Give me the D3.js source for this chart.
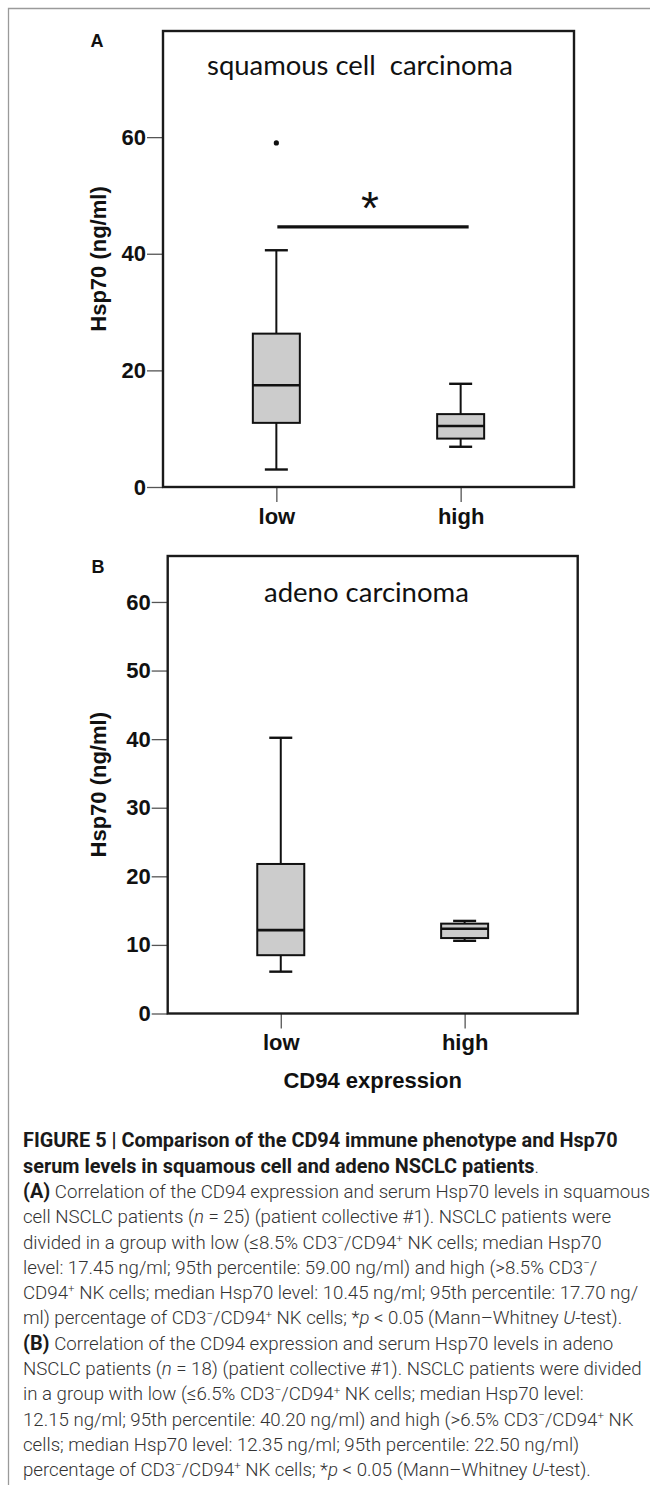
<!DOCTYPE html>
<html><head><meta charset="utf-8">
<script src="https://cdn.jsdelivr.net/npm/d3@7"></script>
<style>body{margin:0;background:#fff} svg{display:block}</style>
</head><body>
<script>
// ---------- data ----------
const categories = ["low", "high"];

// Panel A: squamous cell carcinoma (Hsp70 ng/ml)
const squamousWhiskerLow  = [3.0, 6.9];
const squamousQ1          = [11.0, 8.3];
const squamousMedian      = [17.45, 10.45];
const squamousQ3          = [26.3, 12.5];
const squamousWhiskerHigh = [40.6, 17.7];
const squamousOutliers    = [{cat: "low", value: 59.0}];
const squamousTicks       = [0, 20, 40, 60];
const squamousSignif      = {from: "low", to: "high", value: 44.6, label: "*"};

// Panel B: adeno carcinoma (Hsp70 ng/ml)
const adenoWhiskerLow  = [6.1, 10.6];
const adenoQ1          = [8.5, 11.0];
const adenoMedian      = [12.15, 12.35];
const adenoQ3          = [21.8, 13.1];
const adenoWhiskerHigh = [40.2, 13.5];
const adenoTicks       = [0, 10, 20, 30, 40, 50, 60];

// caption lines (segments: b = bold, i = italic)
const captionLines = [
  [{t:"FIGURE 5 | Comparison of the CD94 immune phenotype and Hsp70", b:1}],
  [{t:"serum levels in squamous cell and adeno NSCLC patients", b:1},{t:"."}],
  [{t:"(A)", b:1},{t:" Correlation of the CD94 expression and serum Hsp70 levels in squamous"}],
  [{t:"cell NSCLC patients ("},{t:"n",i:1},{t:" = 25) (patient collective #1). NSCLC patients were"}],
  [{t:"divided in a group with low (≤8.5% CD3⁻/CD94⁺ NK cells; median Hsp70"}],
  [{t:"level: 17.45 ng/ml; 95th percentile: 59.00 ng/ml) and high (>8.5% CD3⁻/"}],
  [{t:"CD94⁺ NK cells; median Hsp70 level: 10.45 ng/ml; 95th percentile: 17.70 ng/"}],
  [{t:"ml) percentage of CD3⁻/CD94⁺ NK cells; *"},{t:"p",i:1},{t:" < 0.05 (Mann–Whitney "},{t:"U",i:1},{t:"-test)."}],
  [{t:"(B)", b:1},{t:" Correlation of the CD94 expression and serum Hsp70 levels in adeno"}],
  [{t:"NSCLC patients ("},{t:"n",i:1},{t:" = 18) (patient collective #1). NSCLC patients were divided"}],
  [{t:"in a group with low (≤6.5% CD3⁻/CD94⁺ NK cells; median Hsp70 level:"}],
  [{t:"12.15 ng/ml; 95th percentile: 40.20 ng/ml) and high (>6.5% CD3⁻/CD94⁺ NK"}],
  [{t:"cells; median Hsp70 level: 12.35 ng/ml; 95th percentile: 22.50 ng/ml)"}],
  [{t:"percentage of CD3⁻/CD94⁺ NK cells; *"},{t:"p",i:1},{t:" < 0.05 (Mann–Whitney "},{t:"U",i:1},{t:"-test)."}]
];

// ---------- layout ----------
const W = 650, H = 1485;
const AX_FONT = "'Liberation Sans', Arial, Helvetica, sans-serif";
const TITLE_FONT = "Lato, 'Open Sans', sans-serif";
const CAP_FONT = "Roboto, 'Liberation Sans', sans-serif";

const svg = d3.select("body").append("svg").attr("width", W).attr("height", H);

// outer gray frame (left + top)
svg.append("path").attr("d", `M8.5,${H} V8.5 H${W}`)
  .attr("fill", "none").attr("stroke", "#9a9a9a").attr("stroke-width", 1.3);

const panels = [
  { letter:"A", title:"squamous cell  carcinoma", left:163, top:31, right:574, bottom:487, yMax:78.2,
    ticks:squamousTicks, lo:squamousWhiskerLow, q1:squamousQ1, med:squamousMedian, q3:squamousQ3, hi:squamousWhiskerHigh,
    outliers:squamousOutliers, signif:squamousSignif,
    titleL:207, titleR:513, titleBase:75, letterX:97, letterBase:46.7, xLabel:null },
  { letter:"B", title:"adeno carcinoma", left:167.7, top:556, right:577.7, bottom:1013.5, yMax:66.7,
    ticks:adenoTicks, lo:adenoWhiskerLow, q1:adenoQ1, med:adenoMedian, q3:adenoQ3, hi:adenoWhiskerHigh,
    outliers:[], signif:null,
    titleL:264, titleR:469, titleBase:601.7, letterX:98, letterBase:573.3, xLabel:"CD94 expression", xLabelBase:1088 }
];

function fitText(sel, targetWidth, base) {
  sel.attr("font-size", base);
  const w = sel.node().getComputedTextLength();
  const fs = base * targetWidth / w;
  sel.attr("font-size", fs);
  return fs;
}

panels.forEach(p => {
  const g = svg.append("g");
  const x = d3.scalePoint().domain(categories).range([p.left, p.right]).padding(0.615);
  const y = d3.scaleLinear().domain([0, p.yMax]).range([p.bottom, p.top]);

  // panel letter
  g.append("text").attr("x", p.letterX).attr("y", p.letterBase).attr("text-anchor", "middle")
    .attr("font-family", AX_FONT).attr("font-weight", "bold").attr("font-size", 18).attr("fill", "#111")
    .text(p.letter);

  // y axis
  const ya = g.append("g").attr("transform", `translate(${p.left},0)`)
    .call(d3.axisLeft(y).tickValues(p.ticks).tickSize(16).tickPadding(1).tickFormat(d3.format("d")));
  ya.select(".domain").remove();
  ya.selectAll(".tick line").attr("stroke", "#555").attr("stroke-width", 1.3);
  ya.selectAll(".tick text").attr("font-family", AX_FONT).attr("font-weight", "bold")
    .attr("font-size", 22).attr("fill", "#111");

  // x axis
  const xa = g.append("g").attr("transform", `translate(0,${p.bottom})`)
    .call(d3.axisBottom(x).tickSize(15).tickPadding(6));
  xa.select(".domain").remove();
  xa.selectAll(".tick line").attr("stroke", "#555").attr("stroke-width", 1.3);
  xa.selectAll(".tick text").attr("font-family", AX_FONT).attr("font-weight", "bold")
    .attr("font-size", 22).attr("fill", "#111");

  // y label
  g.append("text").attr("transform", `translate(106,${(p.top + p.bottom) / 2}) rotate(-90)`)
    .attr("text-anchor", "middle").attr("font-family", AX_FONT).attr("font-weight", "bold")
    .attr("font-size", 22).attr("fill", "#111").style("white-space", "pre")
    .text("Hsp70 (ng/ml)");

  // frame
  g.append("rect").attr("x", p.left).attr("y", p.top)
    .attr("width", p.right - p.left).attr("height", p.bottom - p.top)
    .attr("fill", "none").attr("stroke", "#1a1a1a").attr("stroke-width", 2.4);

  // title
  const t = g.append("text").attr("x", p.titleL).attr("y", p.titleBase)
    .attr("font-family", TITLE_FONT).attr("fill", "#111").style("white-space", "pre")
    .text(p.title);
  fitText(t, p.titleR - p.titleL, 20);

  // boxes
  const bw = 47, cw = 23;
  categories.forEach((c, i) => {
    const cx = x(c);
    const bg = g.append("g").attr("stroke", "#111").attr("fill", "none");
    bg.append("line").attr("x1", cx).attr("x2", cx).attr("y1", y(p.lo[i])).attr("y2", y(p.q1[i])).attr("stroke-width", 2);
    bg.append("line").attr("x1", cx).attr("x2", cx).attr("y1", y(p.q3[i])).attr("y2", y(p.hi[i])).attr("stroke-width", 2);
    bg.append("line").attr("x1", cx - cw / 2).attr("x2", cx + cw / 2).attr("y1", y(p.lo[i])).attr("y2", y(p.lo[i])).attr("stroke-width", 2.4);
    bg.append("line").attr("x1", cx - cw / 2).attr("x2", cx + cw / 2).attr("y1", y(p.hi[i])).attr("y2", y(p.hi[i])).attr("stroke-width", 2.4);
    bg.append("rect").attr("x", cx - bw / 2).attr("y", y(p.q3[i])).attr("width", bw)
      .attr("height", y(p.q1[i]) - y(p.q3[i])).attr("fill", "#cccccc").attr("stroke-width", 2);
    bg.append("line").attr("x1", cx - bw / 2).attr("x2", cx + bw / 2).attr("y1", y(p.med[i])).attr("y2", y(p.med[i])).attr("stroke-width", 2.6);
  });

  // outliers
  g.selectAll(".out").data(p.outliers).enter().append("circle")
    .attr("cx", d => x(d.cat)).attr("cy", d => y(d.value)).attr("r", 2.6).attr("fill", "#111");

  // significance bar
  if (p.signif) {
    const s = p.signif;
    const x1 = x(s.from) + 1, x2 = x(s.to) + 8;
    g.append("line").attr("x1", x1).attr("x2", x2).attr("y1", y(s.value)).attr("y2", y(s.value))
      .attr("stroke", "#111").attr("stroke-width", 3.3);
    g.append("text").attr("x", (x1 + x2) / 2 - 3).attr("y", y(s.value) - 3).attr("text-anchor", "middle")
      .attr("font-family", AX_FONT).attr("font-size", 46).attr("fill", "#111").text(s.label);
  }

  // x label
  if (p.xLabel) {
    g.append("text").attr("x", (p.left + p.right) / 2).attr("y", p.xLabelBase).attr("text-anchor", "middle")
      .attr("font-family", AX_FONT).attr("font-weight", "bold").attr("font-size", 22).attr("fill", "#111")
      .text(p.xLabel);
  }
});

// ---------- caption ----------
const capLeft = 23, capBase0 = 1147.3, capStep = 25.3;
function renderLine(parent, segs, fsReg, fsBold, yy) {
  const txt = parent.append("text").attr("x", capLeft).attr("y", yy)
    .attr("font-family", CAP_FONT).style("white-space", "pre");
  let pendingDy = 0;
  segs.forEach(s => {
    const fs = s.b ? fsBold : fsReg;
    const parts = s.t.split(/([⁻⁺])/);
    parts.forEach(pt => {
      if (!pt) return;
      const isSup = (pt === "⁻" || pt === "⁺");
      const sz = isSup ? fs * 0.62 : fs;
      const shift = fs * 0.36;
      let dy = pendingDy;
      pendingDy = 0;
      if (isSup) { dy -= shift; pendingDy = shift; }
      const ts = txt.append("tspan").attr("font-size", sz)
        .attr("font-weight", s.b ? "bold" : 300)
        .attr("font-style", s.i ? "italic" : null)
        .attr("fill", s.b ? "#1a1a1a" : "#333")
        .text(isSup ? (pt === "⁻" ? "−" : "+") : pt);
      if (dy) ts.attr("dy", dy);
    });
  });
  return txt;
}
const capG = svg.append("g");
// fit regular size on line 10 (width 619) and bold size on line 1 (width 595)
let probe = renderLine(capG, captionLines[9], 20, 20, -100);
const fsReg = 20 * 619 / probe.node().getComputedTextLength();
probe.remove();
probe = renderLine(capG, captionLines[0], fsReg, 20, -100);
const fsBold = 20 * 595 / probe.node().getComputedTextLength();
probe.remove();
captionLines.forEach((segs, i) => renderLine(capG, segs, fsReg, fsBold, capBase0 + i * capStep));
</script>
</body></html>
